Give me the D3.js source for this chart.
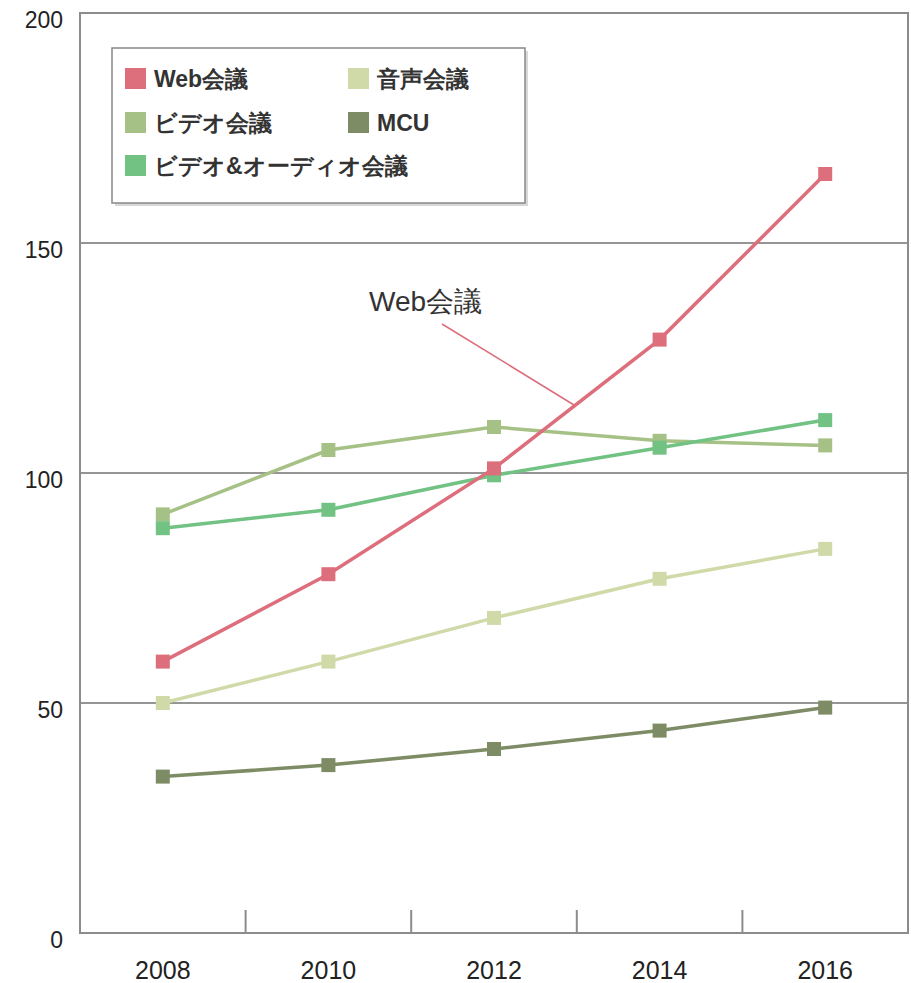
<!DOCTYPE html>
<html><head><meta charset="utf-8">
<script src="https://cdn.jsdelivr.net/npm/d3@7"></script>
<style>body{margin:0;background:#fff}svg{display:block}</style>
</head><body>
<svg id="chart" width="911" height="983"></svg>
<script>
const years = ["2008","2010","2012","2014","2016"];
const seriesNames = ["Web会議","ビデオ会議","ビデオ&オーディオ会議","音声会議","MCU"];
const webValues = [59, 78, 101, 129, 165];
const videoValues = [91, 105, 110, 107, 106];
const videoAudioValues = [88, 92, 99.5, 105.5, 111.5];
const voiceValues = [50, 59, 68.5, 77, 83.5];
const mcuValues = [34, 36.5, 40, 44, 49];
const yTicks = [0, 50, 100, 150, 200];
const colors = ["#dd6e7c", "#a6c186", "#72c284", "#cfdaa8", "#7e8c66"];

const svg = d3.select("#chart");
const L = 80, R = 908, T = 13, B = 933;
const x = d3.scaleBand().domain(years).range([L, R]).padding(0);
const y = d3.scaleLinear().domain([0, 200]).range([B, T]);
const font = "'Liberation Sans', Arial, sans-serif";

// gridlines
svg.append("g").selectAll("line").data(yTicks.filter(d => d > 0 && d < 200)).join("line")
  .attr("x1", L).attr("x2", R).attr("y1", d => y(d)).attr("y2", d => y(d))
  .attr("stroke", "#959595").attr("stroke-width", 2);

// frame
svg.append("rect").attr("x", L).attr("y", T).attr("width", R - L).attr("height", B - T)
  .attr("fill", "none").attr("stroke", "#8c8c8c").attr("stroke-width", 2);

// y labels
svg.append("g").selectAll("text").data(yTicks).join("text")
  .attr("x", 63).attr("y", d => y(d) + 15)
  .attr("text-anchor", "end").attr("font-family", font).attr("font-size", 23)
  .attr("fill", "#222").text(d => d);

// x ticks (band boundaries)
svg.append("g").selectAll("line").data(years.slice(1)).join("line")
  .attr("x1", d => x(d)).attr("x2", d => x(d)).attr("y1", B - 23).attr("y2", B)
  .attr("stroke", "#8c8c8c").attr("stroke-width", 2);
svg.append("g").selectAll("text").data(years).join("text")
  .attr("x", d => x(d) + x.bandwidth() / 2).attr("y", 979)
  .attr("text-anchor", "middle").attr("font-family", font).attr("font-size", 25)
  .attr("fill", "#222").text(d => d);

// annotation
svg.append("line").attr("x1", 442).attr("y1", 324).attr("x2", 574).attr("y2", 405)
  .attr("stroke", "#dd6e7c").attr("stroke-width", 1.5);
svg.append("text").attr("x", 369).attr("y", 311).attr("font-family", font)
  .attr("font-size", 28).attr("fill", "#333").text("Web会議");

// series
const data = [webValues, videoValues, videoAudioValues, voiceValues, mcuValues];
const order = [4, 3, 1, 2, 0];
const cx = d => x(d) + x.bandwidth() / 2;
const line = d3.line().x((v, i) => cx(years[i])).y(v => y(v));
order.forEach(si => {
  const g = svg.append("g");
  g.append("path").datum(data[si]).attr("d", line).attr("fill", "none")
    .attr("stroke", colors[si]).attr("stroke-width", 3.5);
  g.selectAll("rect").data(data[si]).join("rect")
    .attr("x", (v, i) => cx(years[i]) - 7).attr("y", v => y(v) - 7)
    .attr("width", 14).attr("height", 14).attr("fill", colors[si]);
});

// legend
const lg = svg.append("g");
lg.append("rect").attr("x", 115).attr("y", 51).attr("width", 413).attr("height", 155)
  .attr("fill", "#d8d8d8");
lg.append("rect").attr("x", 112).attr("y", 48).attr("width", 413).attr("height", 155)
  .attr("fill", "#fff").attr("stroke", "#888").attr("stroke-width", 1.5);
const legPos = [[125, 78], [125, 122], [125, 165], [348, 78], [348, 122]];
seriesNames.forEach((n, i) => {
  const [lx, ly] = legPos[i];
  lg.append("rect").attr("x", lx).attr("y", ly - 10).attr("width", 21).attr("height", 21)
    .attr("fill", colors[i]);
  lg.append("text").attr("x", lx + 29).attr("y", ly + 9).attr("font-family", font)
    .attr("font-size", 23).attr("font-weight", "bold").attr("fill", "#333").text(n);
});
</script>
</body></html>
